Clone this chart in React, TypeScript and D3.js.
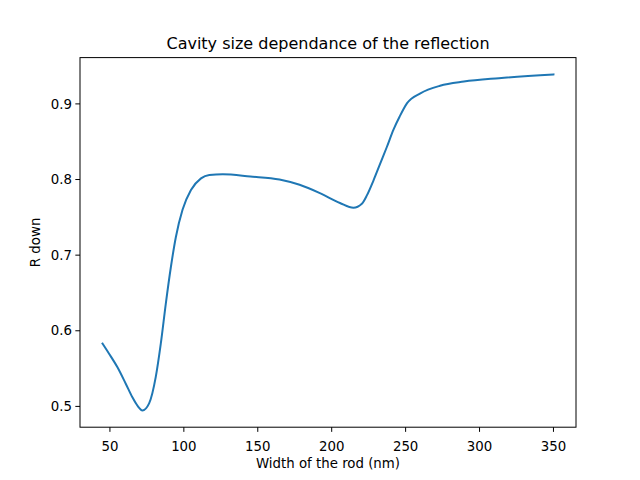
import React from "react";
import * as d3 from "d3";

const widths = [45, 49.3, 55, 60.7, 65.2, 68.6, 72, 76.5, 81, 84.4, 87.8, 91.2, 94.6, 99.1, 104.8, 111.6, 117.2, 126.3, 145, 164.7, 178.3, 192, 205.6, 214.7, 220.4, 223.8, 228.3, 232.8, 237.3, 241.8, 245.9, 251, 260, 273.3, 289.4, 313.1, 350];
const rDown = [0.583, 0.57, 0.552, 0.53, 0.512, 0.501, 0.4947, 0.504, 0.539, 0.583, 0.636, 0.684, 0.724, 0.76, 0.786, 0.8015, 0.806, 0.807, 0.804, 0.8, 0.793, 0.782, 0.769, 0.7627, 0.768, 0.779, 0.799, 0.821, 0.843, 0.866, 0.883, 0.901, 0.914, 0.924, 0.9295, 0.934, 0.939];
const xTicks = [50, 100, 150, 200, 250, 300, 350];
const yTicks = [0.5, 0.6, 0.7, 0.8, 0.9];

const W = 640, H = 480;
const L = 80, R = 576, T = 57.6, B = 427.2;

export default function App() {
  const xMin = d3.min(widths)!, xMax = d3.max(widths)!;
  const yMin = d3.min(rDown)!, yMax = d3.max(rDown)!;
  const xm = (xMax - xMin) * 0.05, ym = (yMax - yMin) * 0.05;
  const x = d3.scaleLinear().domain([xMin - xm, xMax + xm]).range([L, R]);
  const y = d3.scaleLinear().domain([yMin - ym, yMax + ym]).range([B, T]);
  const pts = widths.map((w, i) => [w, rDown[i]] as [number, number]);
  const line = d3.line<[number, number]>().x(d => x(d[0])).y(d => y(d[1])).curve(d3.curveMonotoneX);
  const font = "DejaVu Sans, sans-serif";
  return (
    <svg width={W} height={H} style={{ position: "absolute", left: 0, top: 0, background: "#fff" }} fontFamily={font}>
      <rect x={0} y={0} width={W} height={H} fill="#fff" />
      <path d={line(pts)!} fill="none" stroke="#1f77b4" strokeWidth={2} strokeLinejoin="round" strokeLinecap="square" />
      <rect x={L} y={T} width={R - L} height={B - T} fill="none" stroke="#000" strokeWidth={1} />
      {xTicks.map(t => (
        <g key={t} transform={`translate(${x(t)},${B})`}>
          <line y1={0} y2={4.67} stroke="#000" strokeWidth={1} />
          <text y={18} textAnchor="middle" fontSize={13.33} dominantBaseline="hanging" dy={-4}>{t}</text>
        </g>
      ))}
      {yTicks.map(t => (
        <g key={t} transform={`translate(${L},${y(t)})`}>
          <line x1={0} x2={-4.67} stroke="#000" strokeWidth={1} />
          <text x={-8} textAnchor="end" fontSize={13.33} dy="0.35em">{t.toFixed(1)}</text>
        </g>
      ))}
      <text x={(L + R) / 2} y={468} textAnchor="middle" fontSize={13.33}>Width of the rod (nm)</text>
      <text transform={`translate(40,${(T + B) / 2}) rotate(-90)`} textAnchor="middle" fontSize={13.33}>R down</text>
      <text x={(L + R) / 2} y={49} textAnchor="middle" fontSize={16}>Cavity size dependance of the reflection</text>
    </svg>
  );
}
